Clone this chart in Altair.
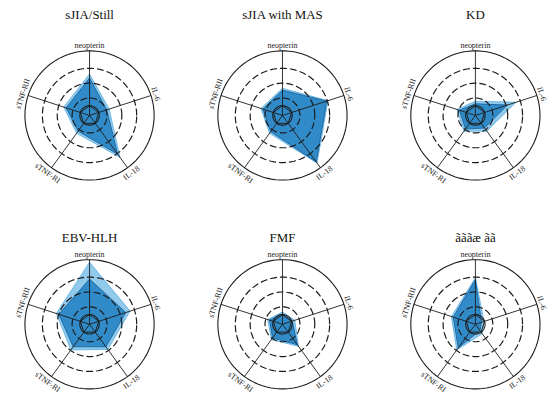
import altair as alt
import pandas as pd

# ---------------- data ----------------
PANELS = ["sJIA/Still", "sJIA  with MAS", "KD", "EBV-HLH", "FMF", "ãããæ ãã"]
AXES = ["neopterin", "IL-6", "IL-18", "sTNF-RI", "sTNF-RII"]
AXIS_DEG = [90, 18, -54, -126, 162]          # spoke directions (math degrees)

# dense (dark blue) profile, outer ring = 5
CORE = {
    "sJIA/Still":     [2.9, 1.4, 3.7, 1.5, 1.9],
    "sJIA  with MAS": [1.95, 3.6, 4.45, 1.55, 1.6],
    "KD":             [0.9, 2.6, 1.2, 1.3, 1.3],
    "EBV-HLH":        [3.5, 2.95, 2.15, 2.15, 2.5],
    "FMF":            [0.8, 0.8, 1.95, 1.3, 1.05],
    "ãããæ ãã":       [3.45, 0.5, 0.6, 2.25, 1.8],
}
# light blue fringe around it
FRINGE = {
    "sJIA/Still":     [3.2, 1.6, 4.0, 1.7, 2.1],
    "sJIA  with MAS": [2.1, 3.7, 4.55, 1.7, 1.75],
    "KD":             [1.1, 3.3, 1.5, 1.5, 1.5],
    "EBV-HLH":        [4.8, 3.3, 2.4, 2.45, 2.7],
    "FMF":            [0.95, 1.0, 2.1, 1.45, 1.2],
    "ãããæ ãã":       [3.6, 0.7, 0.9, 2.45, 1.95],
}

RING_R = [0.75, 1.35, 2.5, 3.65, 5.0]
RING_DASHED = [False, True, True, True, False]
INNER_PENTAGON_R = 0.75
OUTER_R = 5.0
LABEL_R = [5.38, 5.35, 5.55, 5.55, 5.4]
CIRCLE_STEP_DEG = list(range(0, 361, 4))

# ---------------- layout / style ----------------
W, H = 148, 151
XDOM = [-6.31, 5.08]
YDOM = [-4.85, 6.77]
SERIF = "Liberation Serif"
INK = "#1c1c1c"
DARK_BLUE = "#2b87c6"
LIGHT_BLUE = "#6db8e6"

xs = alt.Scale(domain=XDOM, nice=False, zero=False)
ys = alt.Scale(domain=YDOM, nice=False, zero=False)


def X(f):
    return alt.X(f, type="quantitative", scale=xs, axis=None)


def Y(f):
    return alt.Y(f, type="quantitative", scale=ys, axis=None)


POLAR_X = "datum.v * cos(datum.deg * PI / 180)"
POLAR_Y = "datum.v * sin(datum.deg * PI / 180)"

rings = pd.DataFrame(
    [
        {"ring": i, "v": r, "deg": d, "dashed": dashed}
        for i, (r, dashed) in enumerate(zip(RING_R, RING_DASHED))
        for d in CIRCLE_STEP_DEG
    ]
)
spokes = pd.DataFrame({"axis": AXES, "deg": AXIS_DEG, "v": [OUTER_R] * 5})
inner = pd.DataFrame(
    {"deg": AXIS_DEG, "order": range(5), "v": [INNER_PENTAGON_R] * 5}
)
labels = pd.DataFrame({"axis": AXES, "deg": AXIS_DEG, "v": LABEL_R})


def radar(name, title_offset):
    prof = pd.DataFrame(
        {
            "axis": AXES * 2,
            "deg": AXIS_DEG * 2,
            "order": list(range(5)) * 2,
            "v": FRINGE[name] + CORE[name],
            "series": ["fringe"] * 5 + ["core"] * 5,
        }
    )
    base_prof = alt.Chart(prof).transform_calculate(x=POLAR_X, y=POLAR_Y)
    fringe = base_prof.transform_filter("datum.series == 'fringe'").mark_line(
        interpolate="linear-closed", fill=LIGHT_BLUE, fillOpacity=0.75,
        stroke=LIGHT_BLUE, strokeWidth=1,
    ).encode(x=X("x"), y=Y("y"), order=alt.Order("order:Q"))
    core = base_prof.transform_filter("datum.series == 'core'").mark_line(
        interpolate="linear-closed", fill=DARK_BLUE, fillOpacity=0.95,
        stroke="#1f6aa3", strokeWidth=1,
    ).encode(x=X("x"), y=Y("y"), order=alt.Order("order:Q"))

    ring_base = alt.Chart(rings).transform_calculate(x=POLAR_X, y=POLAR_Y)
    solid_rings = ring_base.transform_filter("!datum.dashed").mark_line(
        stroke=INK, strokeWidth=1.1
    ).encode(x=X("x"), y=Y("y"), detail="ring:N", order=alt.Order("deg:Q"))
    dashed_rings = ring_base.transform_filter("datum.dashed").mark_line(
        stroke=INK, strokeWidth=1.2, strokeDash=[7, 3]
    ).encode(x=X("x"), y=Y("y"), detail="ring:N", order=alt.Order("deg:Q"))

    pent = alt.Chart(inner).transform_calculate(x=POLAR_X, y=POLAR_Y).mark_line(
        interpolate="linear-closed", stroke=INK, strokeWidth=1
    ).encode(x=X("x"), y=Y("y"), order=alt.Order("order:Q"))

    spoke = alt.Chart(spokes).transform_calculate(
        x=POLAR_X, y=POLAR_Y, x0="0", y0="0"
    ).mark_rule(stroke=INK, strokeWidth=0.9).encode(
        x=X("x0"), y=Y("y0"), x2="x:Q", y2="y:Q"
    )

    lab = alt.Chart(labels).transform_calculate(
        x=POLAR_X,
        y=POLAR_Y,
        rot="(((90 - datum.deg) + 450) % 180 - 90 + 360) % 360",
    ).mark_text(
        font=SERIF, fontSize=8, color=INK, baseline="middle", align="center",
    ).encode(
        x=X("x"), y=Y("y"), text="axis:N", angle=alt.Angle("rot:Q", scale=None)
    )

    return alt.layer(fringe, core, dashed_rings, solid_rings, pent, spoke, lab).properties(
        width=W,
        height=H,
        title=alt.Title(
            name, font=SERIF, fontSize=13, fontWeight="normal", color="#111",
            anchor="middle", offset=title_offset, dx=8,
        ),
    )


TITLE_OFFSETS = [6, 6, 6, -8, -8, -8]

chart = alt.concat(
    *[radar(p, o) for p, o in zip(PANELS, TITLE_OFFSETS)],
    columns=3,
    spacing={"row": 59, "column": 46},
    bounds="flush",
    padding=0,
).configure_view(strokeWidth=0).properties(background="white")

chart.save("out.html", embed_options={"renderer": "svg", "actions": False})
